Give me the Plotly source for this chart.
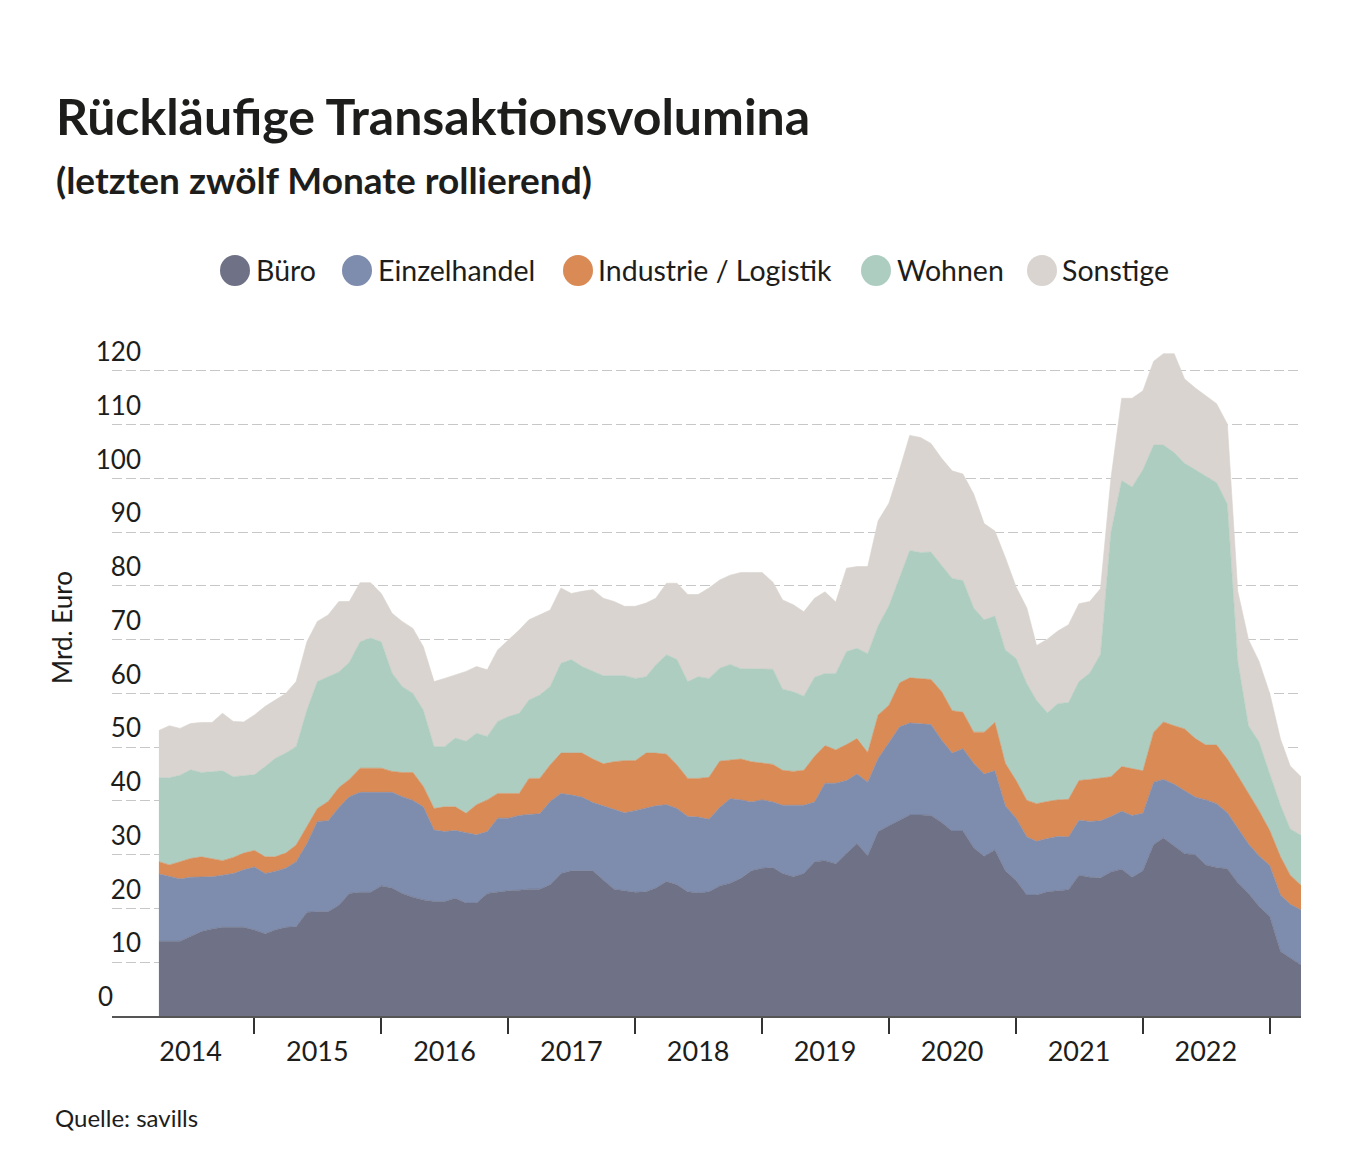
import pandas as pd
import plotly.graph_objects as go

# ---------------- data (Mrd. Euro, rolling 12 months) ----------------
months = pd.date_range("2014-04-01", "2023-04-01", freq="MS")

buero = [
    13.9, 13.9, 13.9, 14.8, 15.7, 16.2, 16.5, 16.5, 16.5, 16.0,
    15.3, 16.0, 16.5, 16.6, 19.3, 19.4, 19.4, 20.6, 22.8, 23.0,
    23.0, 24.2, 23.8, 22.8, 22.1, 21.6, 21.3, 21.3, 21.9, 21.0,
    21.0, 22.8, 23.1, 23.3, 23.4, 23.6, 23.6, 24.4, 26.5, 27.0,
    27.0, 27.0, 25.3, 23.6, 23.3, 23.0, 23.1, 23.8, 25.0, 24.4,
    23.1, 22.9, 23.1, 24.2, 24.7, 25.6, 27.0, 27.5, 27.6, 26.5,
    25.9, 26.5, 28.7, 28.9, 28.3, 30.2, 32.1, 29.8, 34.3, 35.4,
    36.5, 37.4, 37.4, 37.3, 36.0, 34.4, 34.4, 31.3, 29.7, 30.9,
    27.0, 25.2, 22.5, 22.5, 23.1, 23.3, 23.5, 26.2, 25.8, 25.7,
    26.8, 27.3, 25.8, 27.0, 31.9, 33.1, 31.6, 30.2, 30.0, 28.1,
    27.6, 27.4, 24.8, 22.8, 20.4, 18.5, 12.0, 10.8, 9.5,
]
einzelhandel = [
    12.5, 12.0, 11.6, 11.0, 10.2, 9.7, 9.7, 10.0, 10.7, 11.7,
    11.2, 10.9, 11.0, 12.1, 12.8, 16.8, 16.9, 18.2, 18.0, 18.6,
    18.6, 17.4, 17.8, 18.0, 18.0, 17.3, 13.3, 13.0, 12.6, 13.1,
    12.7, 11.5, 13.7, 13.5, 13.9, 13.9, 14.0, 15.5, 14.9, 14.1,
    13.7, 12.7, 13.8, 14.8, 14.5, 15.2, 15.5, 15.3, 14.3, 14.2,
    14.0, 14.1, 13.5, 14.6, 15.7, 14.6, 12.8, 12.7, 12.2, 12.7,
    13.3, 12.7, 11.1, 14.4, 15.0, 13.6, 12.9, 13.7, 13.6, 15.4,
    17.3, 17.1, 16.9, 16.9, 15.3, 14.5, 15.3, 15.7, 15.3, 14.7,
    12.1, 11.6, 10.8, 10.0, 9.9, 10.1, 9.8, 10.2, 10.4, 10.6,
    10.3, 10.8, 11.5, 10.7, 11.6, 10.9, 11.5, 11.7, 10.7, 12.1,
    11.9, 10.4, 10.2, 9.2, 9.4, 9.5, 10.5, 10.0, 10.2,
]
industrie = [
    2.3, 2.2, 3.2, 3.5, 3.7, 3.4, 2.7, 3.0, 3.1, 3.1,
    3.1, 2.7, 2.8, 3.1, 3.1, 2.4, 3.6, 3.7, 3.2, 4.5,
    4.5, 4.5, 3.9, 4.5, 5.2, 3.8, 4.0, 4.6, 4.4, 3.6,
    5.6, 5.9, 4.6, 4.6, 4.1, 6.7, 6.6, 6.8, 7.5, 7.8,
    8.2, 8.1, 7.8, 8.9, 9.7, 9.3, 10.3, 9.8, 9.4, 8.1,
    7.1, 7.2, 7.8, 8.6, 7.2, 7.6, 7.5, 6.8, 7.0, 6.5,
    6.3, 6.5, 8.5, 7.0, 6.2, 6.7, 6.6, 5.5, 8.1, 7.0,
    8.2, 8.4, 8.5, 8.4, 9.0, 7.9, 6.8, 5.8, 7.8, 9.0,
    7.9, 7.0, 6.8, 7.0, 6.9, 6.8, 7.0, 7.4, 7.8, 8.0,
    7.4, 8.3, 8.7, 7.9, 9.3, 10.7, 10.9, 11.5, 10.9, 10.2,
    10.9, 10.0, 9.7, 9.3, 8.4, 6.5, 7.1, 5.4, 4.6,
]
wohnen = [
    15.6, 16.2, 16.1, 16.5, 15.7, 16.2, 16.7, 15.0, 14.4, 14.1,
    16.8, 18.3, 18.6, 18.3, 21.7, 23.6, 23.2, 21.5, 21.8, 23.5,
    24.2, 23.5, 18.3, 16.0, 14.7, 14.2, 11.5, 11.2, 12.8, 13.4,
    13.3, 11.8, 13.4, 14.3, 14.9, 14.6, 15.5, 14.6, 16.7, 17.4,
    16.1, 16.3, 16.4, 16.0, 15.8, 15.3, 14.2, 16.4, 18.5, 19.6,
    18.0, 18.9, 18.4, 17.3, 17.8, 16.8, 17.3, 17.6, 17.7, 15.1,
    14.8, 13.8, 14.7, 13.4, 14.2, 17.3, 16.8, 18.4, 16.6, 18.5,
    19.8, 23.7, 23.4, 23.7, 23.5, 24.6, 24.5, 23.1, 20.9, 19.8,
    21.1, 22.7, 21.7, 19.2, 16.5, 17.9, 18.0, 18.4, 19.8, 23.0,
    45.5, 53.2, 52.4, 56.0, 53.4, 51.5, 50.8, 49.4, 50.0, 50.0,
    48.8, 47.4, 21.3, 12.7, 12.8, 10.5, 9.6, 8.6, 9.3,
]
sonstige = [
    8.8, 9.7, 8.7, 8.6, 9.3, 9.1, 10.7, 10.3, 10.0, 11.1,
    11.2, 10.9, 11.1, 12.1, 12.7, 11.2, 11.5, 13.1, 11.3, 11.0,
    10.3, 9.0, 11.1, 12.1, 12.1, 11.8, 12.1, 12.7, 11.7, 13.0,
    12.4, 12.4, 13.3, 14.2, 15.5, 14.9, 14.9, 14.2, 14.0, 12.3,
    14.0, 15.2, 14.4, 13.8, 12.9, 13.4, 13.7, 12.4, 13.3, 14.2,
    16.2, 15.3, 16.8, 16.4, 16.6, 17.9, 17.9, 17.9, 16.2, 16.6,
    16.2, 15.7, 14.7, 15.2, 13.3, 15.5, 15.2, 16.2, 19.5, 19.1,
    19.9, 21.4, 21.4, 20.2, 19.9, 20.0, 19.8, 21.2, 17.9, 15.8,
    17.2, 13.3, 14.1, 10.2, 13.7, 13.5, 14.5, 14.5, 13.3, 12.2,
    10.0, 15.3, 16.5, 14.7, 15.6, 17.0, 18.4, 15.7, 15.2, 14.9,
    14.7, 14.9, 13.0, 16.0, 15.0, 15.0, 12.3, 11.7, 10.9,
]

series_names = ["Büro", "Einzelhandel", "Industrie / Logistik", "Wohnen", "Sonstige"]
series_values = [buero, einzelhandel, industrie, wohnen, sonstige]
colors = ["#6f7287", "#7e8cad", "#d98a55", "#aecdc1", "#d9d4cf"]

year_labels = ["2014", "2015", "2016", "2017", "2018", "2019", "2020", "2021", "2022"]
y_ticks = [10, 20, 30, 40, 50, 60, 70, 80, 90, 100, 110, 120]

# ---------------- layout geometry (pixels) ----------------
W, H = 1369, 1175
L, R, T, B = 112, 1301, 344, 1016
FONT = "Lato, 'Open Sans', sans-serif"
TXT = "#1d1d1b"


def xp(px):
    return (px - L) / (R - L)


def yp(py):
    return (B - py) / (B - T)


fig = go.Figure()
for name, vals, col in zip(series_names, series_values, colors):
    fig.add_trace(go.Scatter(
        x=months, y=vals, name=name, stackgroup="one", mode="lines",
        line=dict(width=0.6, color=col), fillcolor=col, showlegend=False,
        hovertemplate="%{y:.1f}<extra>" + name + "</extra>",
    ))

year_mid = [f"{y}-07-01" for y in year_labels]
year_start = [f"{int(y) + 1}-01-01" for y in year_labels]

fig.update_layout(
    width=W, height=H,
    margin=dict(l=L, r=W - R, t=T, b=H - B, pad=0),
    paper_bgcolor="white", plot_bgcolor="white",
    font=dict(family=FONT, color=TXT),
    showlegend=False,
    xaxis=dict(
        type="date", range=["2013-11-17", "2023-04-01"],
        tickmode="array", tickvals=year_mid, ticktext=year_labels,
        ticks="", showgrid=False, zeroline=False,
        showline=True, linecolor="#555555", linewidth=2,
        tickfont=dict(size=27, family=FONT, color=TXT),
        ticklabelstandoff=11,
        minor=dict(tickmode="array", tickvals=year_start, ticks="outside",
                   ticklen=16, tickwidth=2, tickcolor="#333333", showgrid=False),
        layer="above traces", fixedrange=True,
    ),
    yaxis=dict(
        range=[0, 125], tickmode="array", tickvals=y_ticks,
        ticktext=[str(v) for v in y_ticks],
        showgrid=True, gridcolor="rgba(0,0,0,0.22)", griddash="10px,4px", gridwidth=1,
        zeroline=False, showline=False, ticks="",
        anchor="free", position=xp(141),
        ticklabelshift=-19,
        tickfont=dict(size=26, family=FONT, color=TXT),
        layer="above traces", fixedrange=True,
    ),
)

annotations = [
    dict(text="<b>Rückläufige Transaktionsvolumina</b>", x=xp(54), y=yp(116),
         xanchor="left", yanchor="middle", font=dict(size=50, color=TXT)),
    dict(text="<b>(letzten zwölf Monate rollierend)</b>", x=xp(54), y=yp(179),
         xanchor="left", yanchor="middle", font=dict(size=37, color=TXT)),
    dict(text="Mrd. Euro", x=xp(62), y=yp(628), textangle=-90,
         xanchor="center", yanchor="middle", font=dict(size=26, color=TXT)),
    dict(text="0", x=xp(115), y=yp(996), xanchor="right", yanchor="middle",
         font=dict(size=26, color=TXT)),
    dict(text="Quelle: savills", x=xp(53), y=yp(1117), xanchor="left",
         yanchor="middle", font=dict(size=24, color=TXT)),
]

# legend: circles + labels
legend_cx = [235, 357, 578, 876, 1042]
legend_tx = [254, 376, 596, 895, 1060]
shapes = []
for name, col, cx, tx in zip(series_names, colors, legend_cx, legend_tx):
    shapes.append(dict(type="circle", xref="paper", yref="paper",
                       x0=xp(cx - 15), x1=xp(cx + 15), y0=yp(286), y1=yp(255),
                       fillcolor=col, line=dict(width=0)))
    annotations.append(dict(text=name, x=xp(tx), y=yp(270), xanchor="left",
                            yanchor="middle", font=dict(size=28.5, color=TXT)))

for a in annotations:
    a.update(xref="paper", yref="paper", showarrow=False)

fig.update_layout(annotations=annotations, shapes=shapes)

fig.write_html(
    "out.html",
    config={"displayModeBar": False},
    post_script="document.body.style.margin='0';document.body.style.padding='0';",
)
